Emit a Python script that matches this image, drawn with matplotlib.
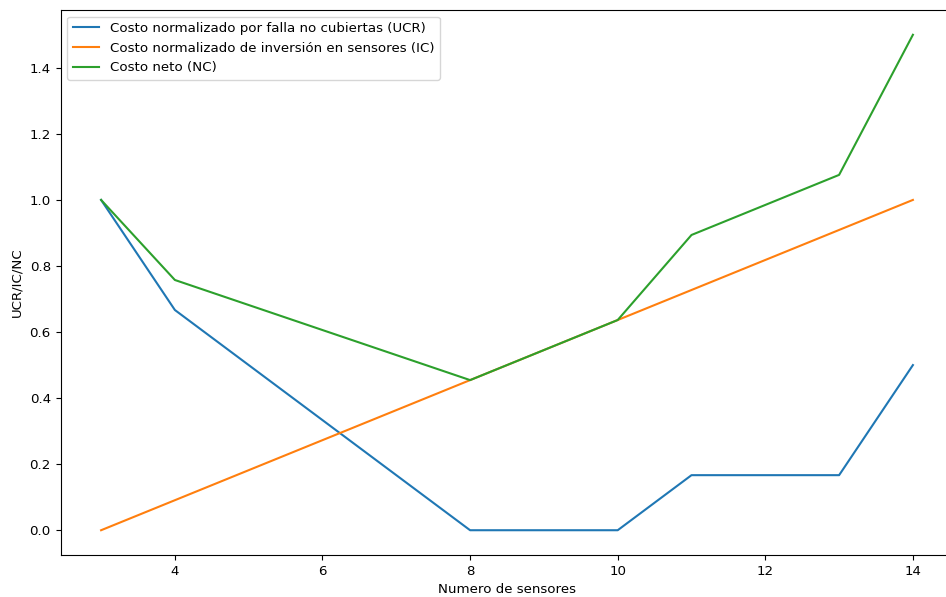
import matplotlib
matplotlib.use("Agg")
import matplotlib.pyplot as plt

sensors = [3, 4, 8, 10, 11, 13, 14]
ucr = [1.0, 0.6667, 0.0, 0.0, 0.1667, 0.1667, 0.5]
ic = [0.0, 0.0909, 0.4545, 0.6364, 0.7273, 0.9091, 1.0]
nc = [1.0, 0.7576, 0.4545, 0.6364, 0.8939, 1.0758, 1.5]

labels = [
    "Costo normalizado por falla no cubiertas (UCR)",
    "Costo normalizado de inversión en sensores (IC)",
    "Costo neto (NC)",
]

plt.rcParams["font.size"] = 9.6

fig = plt.figure(figsize=(9.46, 5.97), dpi=100)
W, H = 946, 597
left, right, top, bottom = 60.5, 953.5, 10, 555
ax = fig.add_axes([left / W, (H - bottom) / H, (right - left) / W, (bottom - top) / H])

ax.plot(sensors, ucr, label=labels[0], lw=1.5)
ax.plot(sensors, ic, label=labels[1], lw=1.5)
ax.plot(sensors, nc, label=labels[2], lw=1.5)
ax.set_xlabel("Numero de sensores")
ax.set_ylabel("UCR/IC/NC")
ax.legend(loc="upper left")

fig.savefig("out.png", dpi=100)
